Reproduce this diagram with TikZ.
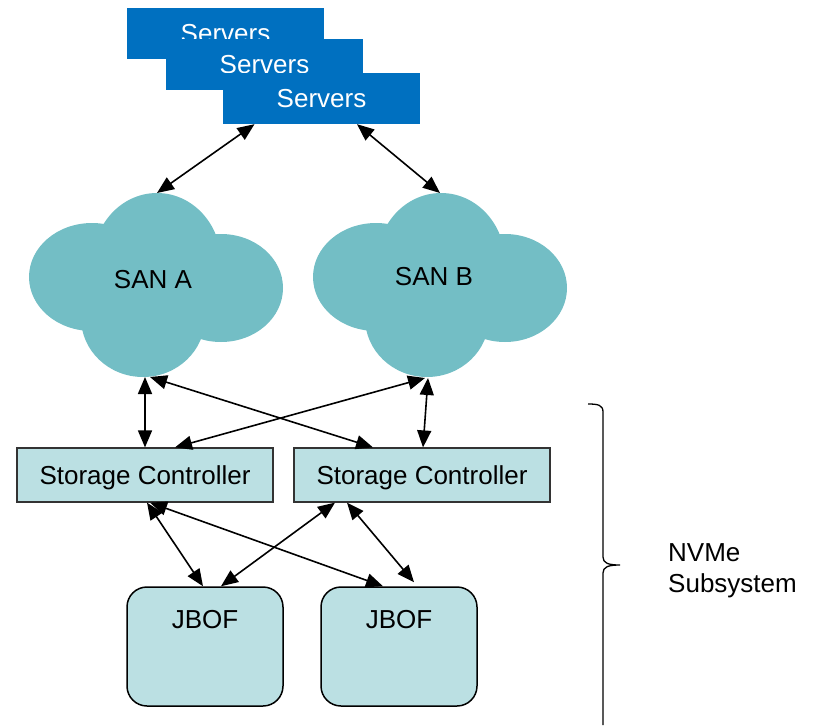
\documentclass[tikz,border=0pt]{standalone}
\usepackage{fontspec}
\setmainfont{Liberation Sans}
\usetikzlibrary{arrows.meta}
\definecolor{srvblue}{RGB}{0,112,192}
\definecolor{cloudc}{RGB}{115,190,197}
\definecolor{boxc}{RGB}{187,224,227}
\begin{document}
\begin{tikzpicture}[x=1pt,y=-1pt,
  bigfont/.style={font=\fontsize{26}{31}\selectfont},
  srv/.style={fill=srvblue, minimum width=197pt, minimum height=51pt, inner sep=0pt, text=white, bigfont},
  ctrl/.style={draw=black!80, line width=1.2pt, fill=boxc, minimum width=256pt, minimum height=54pt, inner sep=0pt, text depth=0pt, bigfont},
  jbof/.style={draw=black, line width=1.5pt, fill=boxc, rounded corners=20pt, minimum width=156pt, minimum height=119pt, inner sep=0pt},
  lbl/.style={inner sep=0pt, bigfont},
  conn/.style={line width=1.6pt, {Triangle[length=17pt,width=14pt]}-{Triangle[length=17pt,width=14pt]}},
  cloudpic/.pic={
    \fill[cloudc] (92,277) ellipse [x radius=63pt, y radius=54pt];
    \fill[cloudc] (221,288) ellipse [x radius=62pt, y radius=54pt];
    \fill[cloudc] (157,262) ellipse [x radius=64pt, y radius=69pt];
    \fill[cloudc] (143,318) ellipse [x radius=62pt, y radius=59pt];
    \fill[cloudc] (155,290) ellipse [x radius=85pt, y radius=55pt];
  }]
\useasboundingbox (0,0) rectangle (813,725);

% servers
\node[srv] (s1) at (225.5,34) {Servers};
\node[srv] (s2) at (264.5,64.5) {Servers};
\node[srv] (s3) at (321.5,98.5) {Servers};

% clouds
\pic at (0,0) {cloudpic};
\pic at (284,0) {cloudpic};
\node[lbl] (sana) at (153,280) {SAN A};
\node[lbl] (sanb) at (434,277) {SAN B};
\coordinate (aTop) at (157,193);
\coordinate (bTop) at (440,193);
\coordinate (aBot1) at (145,377);
\coordinate (aBot2) at (150,377);
\coordinate (bBot1) at (425,378);
\coordinate (bBot2) at (428,378);

% controllers
\node[ctrl] (sc1) at (145,475) {Storage Controller};
\node[ctrl] (sc2) at (422,475) {Storage Controller};

% JBOFs
\node[jbof] (j1) at (205,646.5) {};
\node[jbof] (j2) at (399,646.5) {};
\node[lbl] (j1t) at (205,620) {JBOF};
\node[lbl] (j2t) at (399,620) {JBOF};

% connectors
\draw[conn] (aTop) -- ([xshift=-67pt]s3.south);
\draw[conn] ([xshift=35.5pt]s3.south) -- (bTop);
\draw[conn] (aBot1) -- (sc1.north);
\draw[conn] (aBot2) -- ([xshift=-49pt]sc2.north);
\draw[conn] (bBot1) -- ([xshift=30pt]sc1.north);
\draw[conn] (bBot2) -- ([xshift=1pt]sc2.north);
\draw[conn] ([xshift=2pt]sc1.south) -- ([xshift=-2pt]j1.north);
\draw[conn] ([xshift=5pt]sc1.south) -- ([xshift=-16pt]j2.north);
\draw[conn] ([xshift=-87pt]sc2.south) -- ([xshift=16pt]j1.north);
\draw[conn] ([xshift=-75pt]sc2.south) -- ([xshift=15pt,yshift=4pt]j2.north);

% brace
\draw[line width=1.3pt] (588,404) .. controls (598,404) and (603,405) .. (603,412) -- (603,557)
  .. controls (603,563) and (608,565) .. (620,565)
  .. controls (608,565) and (603,567) .. (603,573) -- (603,725);
\node[lbl, anchor=west, align=left] (nvme) at (668,571) {NVMe\\Subsystem};
\end{tikzpicture}
\end{document}
